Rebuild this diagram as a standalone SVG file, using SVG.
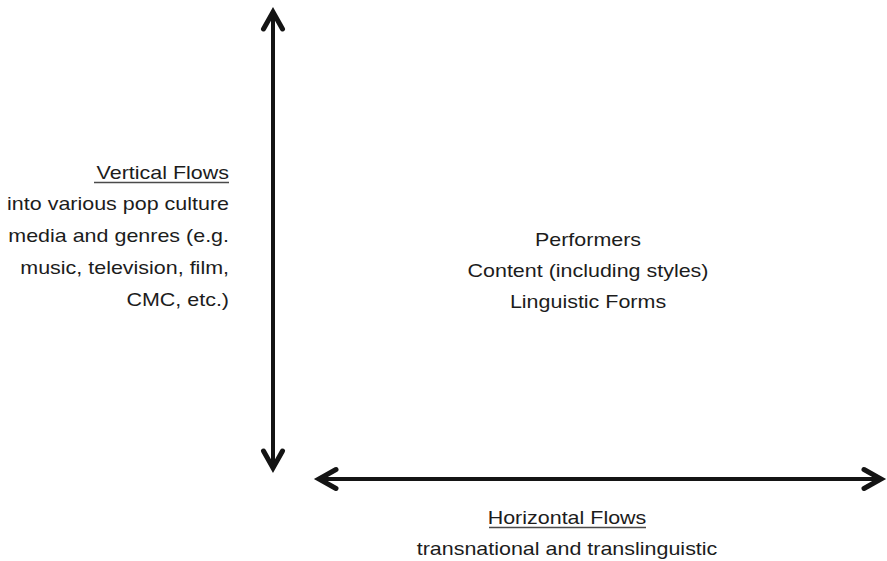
<svg xmlns="http://www.w3.org/2000/svg" width="887" height="561" viewBox="0 0 887 561">
  <defs>
    <style>
      .lbl { font-family: "Liberation Sans", Arial, sans-serif; font-size: 19px; fill: #1c1c1c; }
      .end { text-anchor: end; }
      .mid { text-anchor: middle; }
      .rule { stroke: #4a4a4a; stroke-width: 1.5; }
      .axis { stroke: #141414; stroke-width: 4; fill: none; marker-start: url(#chev); marker-end: url(#chev); }
    </style>
    <!-- open chevron head, reused at both ends of each axis -->
    <marker id="chev" markerUnits="userSpaceOnUse" orient="auto-start-reverse" refX="0" refY="0" markerWidth="40" markerHeight="40" viewBox="-30 -20 40 40" overflow="visible">
      <path d="M-17,-9.5 L0,0 L-17,9.5" fill="none" stroke="#141414" stroke-width="5" stroke-linejoin="miter" stroke-linecap="round"/>
    </marker>
  </defs>

  <rect width="887" height="561" fill="#ffffff"/>

  <g id="connectors">
    <line class="axis" x1="273" y1="12" x2="273" y2="468"/>
    <line class="axis" x1="319" y1="479" x2="881" y2="479"/>
  </g>

  <g id="vertical-flows">
    <g transform="translate(229,0) scale(1.13,1)">
      <text class="lbl end" x="0" y="179">Vertical Flows</text>
      <text class="lbl end" x="0" y="210">into various pop culture</text>
      <text class="lbl end" x="0" y="242">media and genres (e.g.</text>
      <text class="lbl end" x="0" y="274">music, television, film,</text>
      <text class="lbl end" x="0" y="306">CMC, etc.)</text>
    </g>
    <line class="rule" x1="94" y1="182.5" x2="229" y2="182.5"/>
  </g>

  <g id="flow-contents">
    <g transform="translate(588,0) scale(1.13,1)">
      <text class="lbl mid" x="0" y="246">Performers</text>
      <text class="lbl mid" x="0" y="277">Content (including styles)</text>
      <text class="lbl mid" x="0" y="308">Linguistic Forms</text>
    </g>
  </g>

  <g id="horizontal-flows">
    <g transform="translate(567,0) scale(1.13,1)">
      <text class="lbl mid" x="0" y="524">Horizontal Flows</text>
      <text class="lbl mid" x="0" y="555">transnational and translinguistic</text>
    </g>
    <line class="rule" x1="489" y1="527.5" x2="646" y2="527.5"/>
  </g>
</svg>
